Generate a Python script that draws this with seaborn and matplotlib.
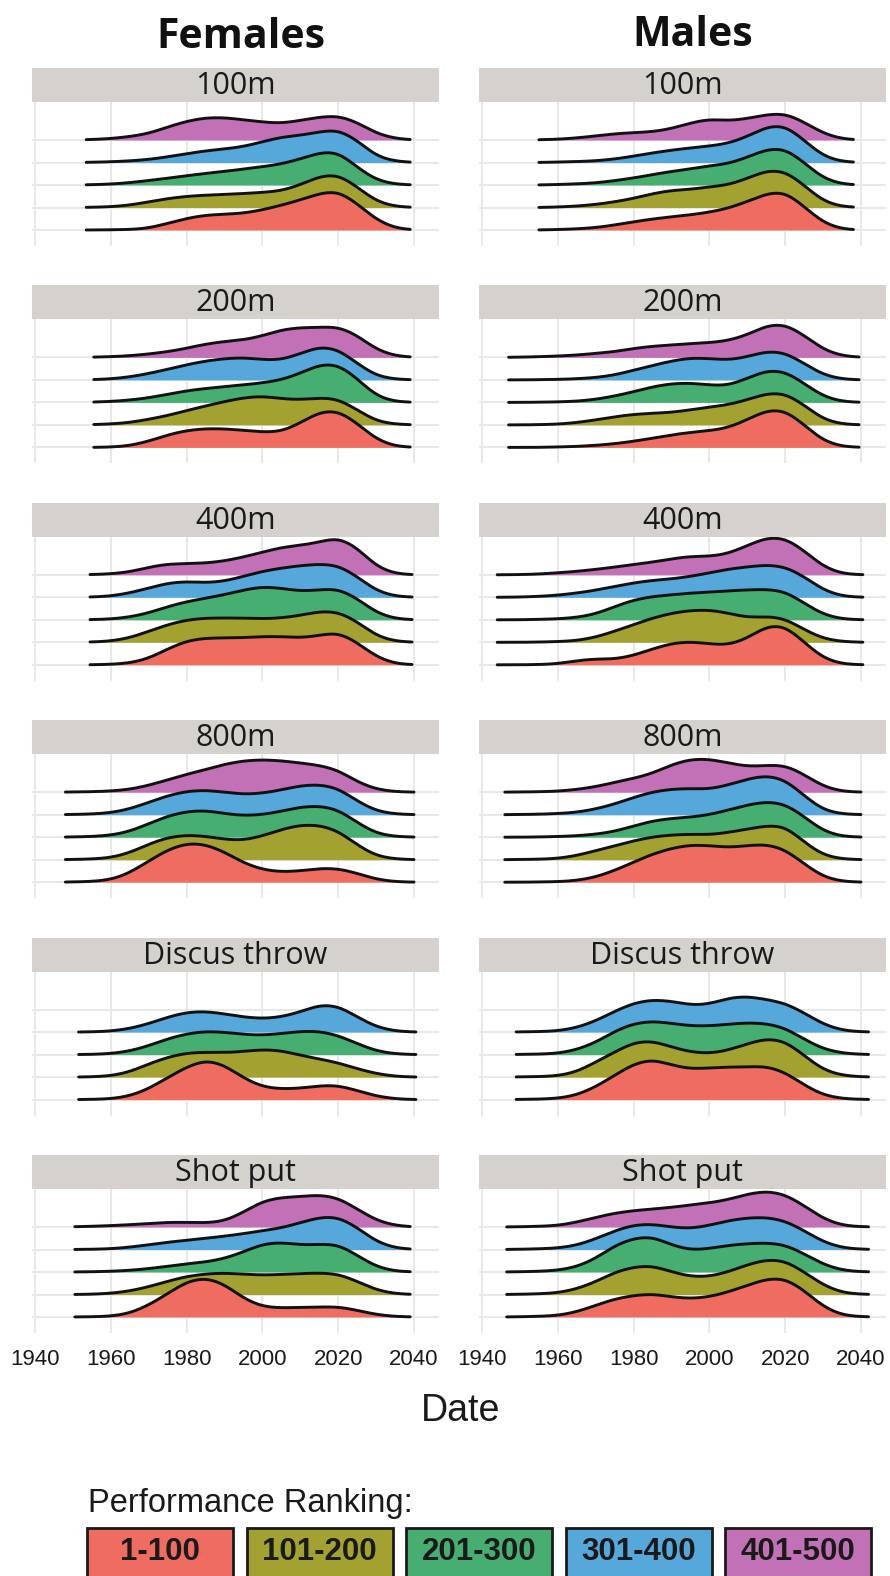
import numpy as np
import matplotlib
matplotlib.use("Agg")
import matplotlib.pyplot as plt
from matplotlib.patches import Rectangle
from matplotlib.transforms import Affine2D
import seaborn as sns

# years at which the ranking counts are sampled (5-year bins)
YEARS = np.arange(1945, 2041, 5)
BIN = 5

RANKS = ["1-100", "101-200", "201-300", "301-400", "401-500"]
PALETTE = ["#EE6C60", "#A3A12F", "#46AE70", "#56A7DA", "#C371B6"]
EVENTS = ["100m", "200m", "400m", "800m", "Discus throw", "Shot put"]

# relative counts per 5-year bin, one list per ranking group (1-100 first)
F_100M = [
    [0, 0, 0, 0.01, 0.02, 0.07, 0.3, 0.52, 0.67, 0.7, 0.74, 0.89, 1.1, 1.33, 1.63, 1.78, 1.18, 0.44, 0.07, 0],
    [0, 0, 0.01, 0.03, 0.1, 0.25, 0.4, 0.5, 0.55, 0.58, 0.62, 0.67, 0.73, 1.0, 1.4, 1.51, 0.92, 0.25, 0.04, 0],
    [0, 0, 0.01, 0.04, 0.1, 0.2, 0.3, 0.41, 0.52, 0.6, 0.71, 0.81, 0.93, 1.15, 1.45, 1.52, 0.78, 0.2, 0.03, 0],
    [0, 0, 0.01, 0.03, 0.07, 0.13, 0.25, 0.4, 0.52, 0.6, 0.7, 0.92, 1.14, 1.2, 1.36, 1.5, 1.0, 0.25, 0.05, 0],
    [0, 0, 0.02, 0.06, 0.15, 0.28, 0.58, 0.84, 1.0, 1.0, 0.9, 0.8, 0.73, 0.87, 1.02, 1.1, 0.8, 0.28, 0.06, 0],
]
F_200M = [
    [0, 0, 0, 0.01, 0.07, 0.27, 0.56, 0.76, 0.84, 0.83, 0.76, 0.68, 0.68, 1.08, 1.6, 1.67, 1.08, 0.34, 0.04, 0],
    [0, 0, 0.01, 0.04, 0.1, 0.25, 0.41, 0.64, 0.84, 1.04, 1.21, 1.29, 1.16, 1.11, 1.21, 1.18, 0.67, 0.15, 0.03, 0],
    [0, 0, 0.01, 0.04, 0.1, 0.2, 0.36, 0.52, 0.62, 0.7, 0.77, 0.87, 0.99, 1.29, 1.7, 1.73, 1.07, 0.25, 0.03, 0],
    [0, 0, 0.01, 0.04, 0.13, 0.28, 0.47, 0.68, 0.84, 0.95, 1.0, 0.9, 0.87, 1.17, 1.5, 1.39, 0.73, 0.16, 0.03, 0],
    [0, 0, 0.01, 0.03, 0.07, 0.15, 0.25, 0.4, 0.6, 0.71, 0.77, 0.95, 1.24, 1.33, 1.33, 1.39, 1.0, 0.33, 0.06, 0],
]
F_400M = [
    [0, 0, 0, 0.02, 0.07, 0.27, 0.71, 1.08, 1.19, 1.2, 1.2, 1.26, 1.26, 1.19, 1.3, 1.48, 1.0, 0.34, 0.04, 0],
    [0, 0, 0.01, 0.05, 0.19, 0.49, 0.79, 1.0, 1.08, 1.08, 1.08, 1.04, 1.08, 1.19, 1.38, 1.38, 0.93, 0.27, 0.04, 0],
    [0, 0, 0.01, 0.03, 0.12, 0.3, 0.59, 0.81, 0.96, 1.11, 1.33, 1.48, 1.41, 1.26, 1.33, 1.41, 0.96, 0.3, 0.04, 0],
    [0, 0, 0.01, 0.05, 0.19, 0.41, 0.64, 0.71, 0.64, 0.71, 0.93, 1.16, 1.3, 1.41, 1.48, 1.45, 0.93, 0.27, 0.04, 0],
    [0, 0, 0.01, 0.04, 0.12, 0.34, 0.49, 0.49, 0.52, 0.61, 0.79, 1.0, 1.23, 1.3, 1.45, 1.7, 1.23, 0.34, 0.04, 0],
]
F_800M = [
    [0, 0.01, 0.03, 0.1, 0.4, 0.95, 1.45, 1.75, 1.7, 1.35, 0.85, 0.55, 0.45, 0.5, 0.62, 0.62, 0.4, 0.12, 0.02, 0],
    [0, 0.01, 0.03, 0.08, 0.3, 0.7, 1.0, 1.1, 1.05, 0.9, 0.85, 1.05, 1.35, 1.55, 1.55, 1.3, 0.65, 0.15, 0.03, 0],
    [0, 0.01, 0.03, 0.08, 0.25, 0.6, 0.95, 1.15, 1.2, 1.05, 0.95, 1.0, 1.15, 1.35, 1.4, 1.25, 0.65, 0.15, 0.03, 0],
    [0, 0.01, 0.03, 0.08, 0.25, 0.55, 0.85, 1.05, 1.1, 1.0, 0.9, 0.95, 1.1, 1.3, 1.35, 1.2, 0.6, 0.15, 0.03, 0],
    [0, 0.01, 0.02, 0.05, 0.12, 0.3, 0.55, 0.8, 1.0, 1.25, 1.4, 1.45, 1.4, 1.3, 1.2, 1.0, 0.45, 0.12, 0.02, 0],
]
F_DISCUS = [
    [0, 0, 0.01, 0.03, 0.15, 0.47, 0.99, 1.45, 1.8, 1.55, 0.95, 0.55, 0.47, 0.5, 0.62, 0.65, 0.4, 0.15, 0.03, 0],
    [0, 0, 0.01, 0.05, 0.22, 0.59, 0.89, 1.08, 1.11, 1.08, 1.14, 1.23, 1.19, 0.96, 0.81, 0.64, 0.37, 0.15, 0.03, 0],
    [0, 0, 0.01, 0.04, 0.15, 0.39, 0.71, 0.93, 1.04, 1.0, 0.89, 0.86, 0.93, 1.04, 1.05, 0.86, 0.49, 0.15, 0.03, 0],
    [0, 0, 0.01, 0.04, 0.15, 0.37, 0.67, 0.89, 0.93, 0.81, 0.67, 0.59, 0.67, 0.89, 1.23, 1.19, 0.67, 0.22, 0.04, 0],
]
F_SHOT = [
    [0, 0, 0.01, 0.03, 0.15, 0.52, 1.04, 1.59, 1.78, 1.48, 0.81, 0.44, 0.4, 0.43, 0.44, 0.47, 0.3, 0.1, 0.02, 0],
    [0, 0, 0.01, 0.05, 0.15, 0.34, 0.59, 0.81, 0.92, 0.96, 0.9, 0.86, 0.89, 0.93, 0.96, 0.93, 0.59, 0.19, 0.03, 0],
    [0, 0, 0.01, 0.03, 0.07, 0.15, 0.25, 0.37, 0.44, 0.59, 0.89, 1.26, 1.33, 1.19, 1.23, 1.26, 0.74, 0.22, 0.03, 0],
    [0, 0, 0.01, 0.03, 0.1, 0.21, 0.33, 0.4, 0.5, 0.59, 0.7, 0.84, 0.95, 1.19, 1.44, 1.48, 0.99, 0.33, 0.06, 0],
    [0, 0.01, 0.03, 0.06, 0.1, 0.16, 0.21, 0.21, 0.18, 0.24, 0.65, 1.17, 1.32, 1.35, 1.44, 1.32, 0.8, 0.28, 0.06, 0],
]

M_100M = [
    [0, 0, 0, 0.02, 0.05, 0.1, 0.22, 0.37, 0.49, 0.59, 0.67, 0.79, 0.96, 1.26, 1.63, 1.75, 1.04, 0.3, 0.03, 0],
    [0, 0, 0, 0.02, 0.06, 0.13, 0.25, 0.4, 0.62, 0.77, 0.8, 0.92, 0.99, 1.29, 1.66, 1.66, 0.99, 0.25, 0.03, 0],
    [0, 0, 0, 0.02, 0.05, 0.09, 0.19, 0.31, 0.46, 0.61, 0.71, 0.86, 0.93, 1.23, 1.6, 1.67, 1.0, 0.27, 0.03, 0],
    [0, 0, 0, 0.02, 0.04, 0.07, 0.15, 0.28, 0.43, 0.55, 0.65, 0.73, 0.84, 1.14, 1.61, 1.7, 0.99, 0.25, 0.03, 0],
    [0, 0, 0.01, 0.03, 0.09, 0.18, 0.28, 0.33, 0.36, 0.5, 0.76, 0.95, 0.84, 0.95, 1.13, 1.21, 0.8, 0.28, 0.04, 0],
]
M_200M = [
    [0, 0, 0, 0.02, 0.04, 0.09, 0.16, 0.27, 0.41, 0.56, 0.67, 0.74, 0.86, 1.23, 1.67, 1.7, 1.0, 0.27, 0.03, 0],
    [0, 0, 0.01, 0.03, 0.1, 0.22, 0.37, 0.47, 0.52, 0.55, 0.67, 0.79, 0.89, 1.11, 1.41, 1.44, 0.89, 0.22, 0.03, 0],
    [0, 0, 0.01, 0.02, 0.05, 0.13, 0.28, 0.47, 0.7, 0.84, 0.87, 0.77, 0.73, 1.07, 1.44, 1.41, 0.84, 0.25, 0.03, 0],
    [0, 0, 0.01, 0.02, 0.05, 0.1, 0.21, 0.43, 0.65, 0.84, 0.99, 0.95, 0.87, 1.02, 1.29, 1.24, 0.73, 0.21, 0.03, 0],
    [0, 0.01, 0.03, 0.06, 0.1, 0.18, 0.25, 0.4, 0.5, 0.55, 0.62, 0.65, 0.74, 0.99, 1.44, 1.51, 0.99, 0.33, 0.06, 0],
]
M_400M = [
    [0, 0, 0.01, 0.04, 0.19, 0.27, 0.24, 0.41, 0.71, 0.96, 1.04, 0.93, 0.86, 1.16, 1.75, 1.78, 1.0, 0.27, 0.03, 0],
    [0, 0, 0.01, 0.03, 0.07, 0.22, 0.49, 0.79, 1.08, 1.3, 1.42, 1.45, 1.3, 1.08, 1.16, 1.08, 0.56, 0.15, 0.03, 0],
    [0, 0, 0.02, 0.04, 0.1, 0.25, 0.59, 0.89, 1.04, 1.11, 1.19, 1.23, 1.29, 1.33, 1.36, 1.29, 0.74, 0.22, 0.03, 0],
    [0, 0.01, 0.04, 0.09, 0.19, 0.31, 0.49, 0.64, 0.76, 0.81, 0.93, 1.08, 1.26, 1.35, 1.45, 1.38, 0.93, 0.31, 0.04, 0],
    [0, 0.01, 0.03, 0.09, 0.15, 0.24, 0.34, 0.46, 0.56, 0.71, 0.83, 0.81, 0.93, 1.3, 1.67, 1.67, 1.08, 0.34, 0.04, 0],
]
M_800M = [
    [0, 0, 0.01, 0.02, 0.07, 0.22, 0.52, 0.89, 1.26, 1.51, 1.67, 1.63, 1.53, 1.63, 1.7, 1.48, 0.81, 0.22, 0.03, 0],
    [0, 0.01, 0.02, 0.05, 0.18, 0.4, 0.62, 0.84, 1.02, 1.1, 1.14, 1.1, 1.21, 1.36, 1.51, 1.54, 0.77, 0.18, 0.03, 0],
    [0, 0, 0.01, 0.03, 0.06, 0.13, 0.25, 0.5, 0.73, 0.84, 0.89, 0.99, 1.21, 1.44, 1.59, 1.51, 0.92, 0.25, 0.03, 0],
    [0, 0.01, 0.02, 0.05, 0.1, 0.25, 0.47, 0.77, 1.02, 1.14, 1.17, 1.12, 1.32, 1.59, 1.76, 1.59, 0.84, 0.18, 0.03, 0],
    [0, 0.01, 0.02, 0.04, 0.12, 0.24, 0.44, 0.61, 0.83, 1.23, 1.48, 1.48, 1.3, 1.13, 1.19, 1.23, 0.79, 0.24, 0.03, 0],
]
M_DISCUS = [
    [0, 0.01, 0.02, 0.05, 0.19, 0.56, 1.08, 1.6, 1.82, 1.53, 1.35, 1.41, 1.45, 1.45, 1.5, 1.23, 0.64, 0.19, 0.04, 0.01],
    [0, 0.01, 0.02, 0.05, 0.22, 0.67, 1.11, 1.56, 1.63, 1.33, 1.11, 1.04, 1.19, 1.48, 1.73, 1.63, 0.96, 0.3, 0.07, 0.01],
    [0, 0.01, 0.02, 0.05, 0.21, 0.53, 1.05, 1.39, 1.5, 1.39, 1.27, 1.27, 1.35, 1.42, 1.39, 1.2, 0.68, 0.24, 0.06, 0.01],
    [0, 0.01, 0.02, 0.05, 0.19, 0.49, 0.93, 1.3, 1.45, 1.38, 1.19, 1.23, 1.53, 1.6, 1.45, 1.3, 0.86, 0.34, 0.07, 0.01],
]
M_SHOT = [
    [0, 0.01, 0.03, 0.06, 0.22, 0.52, 0.81, 0.96, 1.04, 0.89, 0.81, 0.89, 1.11, 1.41, 1.7, 1.75, 1.19, 0.44, 0.07, 0.01],
    [0, 0.01, 0.03, 0.07, 0.24, 0.56, 1.0, 1.23, 1.3, 1.0, 0.79, 0.79, 1.0, 1.33, 1.56, 1.53, 1.0, 0.41, 0.07, 0.01],
    [0, 0.01, 0.03, 0.07, 0.22, 0.59, 1.19, 1.51, 1.6, 1.19, 0.96, 1.04, 1.19, 1.26, 1.3, 1.23, 0.81, 0.33, 0.07, 0.01],
    [0, 0.01, 0.03, 0.06, 0.18, 0.47, 0.84, 1.1, 1.14, 0.99, 0.92, 1.07, 1.29, 1.41, 1.44, 1.29, 0.84, 0.33, 0.07, 0.01],
    [0, 0.01, 0.03, 0.06, 0.21, 0.43, 0.62, 0.73, 0.8, 0.87, 0.98, 1.07, 1.21, 1.47, 1.61, 1.47, 0.95, 0.36, 0.06, 0.01],
]

# first / last date in each panel
F_SPAN = [(1953.5, 2039), (1955.5, 2039), (1954.5, 2039.5), (1948, 2040), (1951.5, 2040.5), (1950.5, 2039)]
M_SPAN = [(1955, 2038), (1947, 2039.5), (1944, 2040.5), (1946, 2040), (1949, 2042), (1946.5, 2042)]

FEMALES = [F_100M, F_200M, F_400M, F_800M, F_DISCUS, F_SHOT]
MALES = [M_100M, M_200M, M_400M, M_800M, M_DISCUS, M_SHOT]

sns.set_style("white")
plt.rcParams["font.family"] = ["Liberation Sans", "DejaVu Sans"]

W, H = 890, 1576
fig = plt.figure(figsize=(W / 100, H / 100), dpi=100)


def draw_ridges(ax, groups, span):
    # top ridge first so lower ridges sit in front
    for level in range(len(groups), 0, -1):
        w = np.array(groups[level - 1], dtype=float)
        mu = np.average(YEARS, weights=w)
        sd = np.sqrt(np.average((YEARS - mu) ** 2, weights=w))
        bw = 3.2 / sd
        sns.kdeplot(x=YEARS, weights=w, bw_method=bw, clip=span, fill=True,
                    color=PALETTE[level - 1], alpha=1, linewidth=0, ax=ax)
        fill = ax.collections[-1]
        sns.kdeplot(x=YEARS, weights=w, bw_method=bw, clip=span,
                    color="#111111", linewidth=2.1, ax=ax)
        line = ax.lines[-1]
        tr = Affine2D().scale(1, w.sum() * BIN).translate(0, level) + ax.transData
        z = 10 + 2 * (6 - level)
        fill.set_transform(tr)
        fill.set_zorder(z)
        line.set_transform(tr)
        line.set_zorder(z + 1)
        line.set_solid_capstyle("round")


for col, (data, spans) in enumerate([(FEMALES, F_SPAN), (MALES, M_SPAN)]):
    left = 32 if col == 0 else 479
    for row in range(6):
        strip_top = 68 + 217.4 * row
        panel_bottom = strip_top + 34 + 144
        ax = fig.add_axes([left / W, 1 - panel_bottom / H, 407 / W, 144 / H])
        draw_ridges(ax, data[row], spans[row])
        ax.set_xlim(1939.2, 2046.6)
        ax.set_ylim(0.289, 6.689)
        ax.set_xticks(np.arange(1940, 2041, 20))
        ax.set_yticks([1, 2, 3, 4, 5])
        ax.grid(True, color="#e8e8e8", linewidth=1.5)
        ax.set_axisbelow(True)
        ax.set_xlabel("")
        ax.set_ylabel("")
        for s in ax.spines.values():
            s.set_visible(False)
        ax.tick_params(axis="y", length=0, labelleft=False)
        if row == 5:
            ax.tick_params(axis="x", length=4.5, width=1.5, color="#d9d9d9",
                           labelsize=16, labelcolor="#1a1a1a", pad=7)
        else:
            ax.tick_params(axis="x", length=0, labelbottom=False)
        # facet strip
        ax.add_patch(Rectangle((0, 1), 1, 34 / 144, transform=ax.transAxes,
                               facecolor="#d5d1cd", edgecolor="none", clip_on=False))
        ax.text(0.5, 1 + 16 / 144, EVENTS[row], transform=ax.transAxes,
                ha="center", va="center", fontsize=22, color="#1a1a1a",
                family=["Open Sans", "DejaVu Sans"])

fig.text(241 / W, 1 - 37 / H, "Females", ha="center", va="center", fontsize=29.5,
         fontweight="bold", family=["Open Sans", "DejaVu Sans"], color="#111111")
fig.text(693 / W, 1 - 35 / H, "Males", ha="center", va="center", fontsize=29.5,
         fontweight="bold", family=["Open Sans", "DejaVu Sans"], color="#111111")

fig.text(461 / W, 1 - 1411 / H, "Date", ha="center", va="center", fontsize=27,
         color="#1a1a1a")

# legend
fig.text(88 / W, 1 - 1512 / H, "Performance Ranking:", ha="left", va="baseline",
         fontsize=23.5, color="#1a1a1a")
for i, (lab, colr) in enumerate(zip(RANKS, PALETTE)):
    x0 = 87 + 159.5 * i
    fig.patches.append(Rectangle((x0 / W, 1 - 1577 / H), 146 / W, 49 / H,
                                 transform=fig.transFigure, facecolor=colr,
                                 edgecolor="#1a1a1a", linewidth=2))
    fig.text((x0 + 73) / W, 1 - 1552 / H, lab, ha="center", va="center",
             fontsize=22.5, fontweight="bold", color="#1a1a1a")

fig.savefig("out.png", dpi=100, facecolor="white")
